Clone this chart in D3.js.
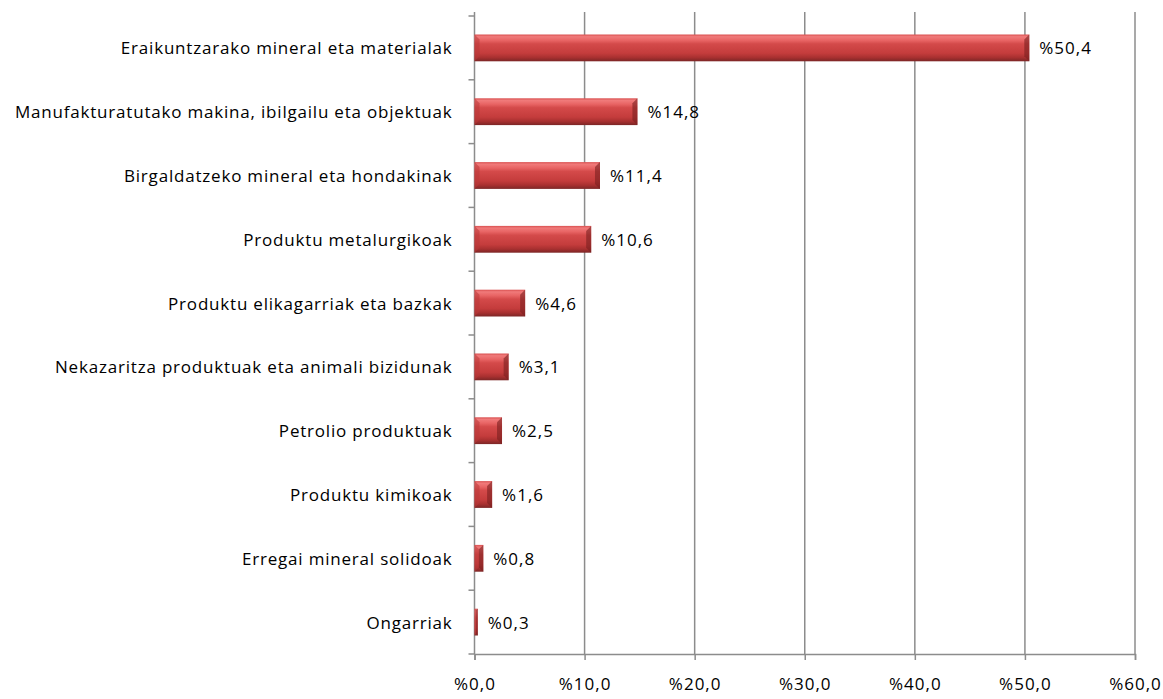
<!DOCTYPE html>
<html>
<head>
<meta charset="utf-8">
<script src="https://cdn.jsdelivr.net/npm/d3@7"></script>
<style>
  html, body { margin: 0; padding: 0; background: #fff; }
  svg { display: block; font-family: "Open Sans", sans-serif; }
</style>
</head>
<body>
<svg id="chart" width="1163" height="699"></svg>
<script>
// Categories, top to bottom
const categories = [
  "Eraikuntzarako mineral eta materialak",
  "Manufakturatutako makina, ibilgailu eta objektuak",
  "Birgaldatzeko mineral eta hondakinak",
  "Produktu metalurgikoak",
  "Produktu elikagarriak eta bazkak",
  "Nekazaritza produktuak eta animali bizidunak",
  "Petrolio produktuak",
  "Produktu kimikoak",
  "Erregai mineral solidoak",
  "Ongarriak"
];
// Share of each category (%)
const values = [50.4, 14.8, 11.4, 10.6, 4.6, 3.1, 2.5, 1.6, 0.8, 0.3];
// X axis ticks
const xTicks = [0, 10, 20, 30, 40, 50, 60];

const fmt = v => "%" + v.toFixed(1).replace(".", ",");

const svg = d3.select("#chart");
const margin = { left: 474.5, right: 28, top: 16, bottom: 45 };
const W = 1163, H = 699;

const x = d3.scaleLinear().domain([0, 60]).range([margin.left, W - margin.right]);
const y = d3.scaleBand().domain(categories).range([margin.top, H - margin.bottom]).paddingInner(0.58).paddingOuter(0.29);
const yOuter = d3.scaleBand().domain(categories).range([margin.top, H - margin.bottom]);

// Gradient for the bevelled bars
const defs = svg.append("defs");
const g = defs.append("linearGradient").attr("id", "barGrad").attr("x1", 0).attr("y1", 0).attr("x2", 0).attr("y2", 1);
[[0, "#d95050"], [0.08, "#f07a7a"], [0.22, "#e86464"], [0.35, "#d44a4a"], [0.7, "#c43c3c"], [0.86, "#a83030"], [1, "#7c2626"]]
  .forEach(([o, c]) => g.append("stop").attr("offset", o).attr("stop-color", c));

// Vertical gridlines
svg.append("g").selectAll("line").data(xTicks.filter(t => t > 0)).join("line")
  .attr("x1", d => x(d)).attr("x2", d => x(d))
  .attr("y1", margin.top - 4).attr("y2", H - margin.bottom)
  .attr("stroke", "#8c8c8c").attr("stroke-width", 1.5);

// X axis
const xAxis = svg.append("g").attr("transform", `translate(0,${H - margin.bottom})`)
  .call(d3.axisBottom(x).tickValues(xTicks).tickFormat(fmt).tickSize(6).tickPadding(18));
xAxis.select(".domain").attr("stroke", "#8c8c8c").attr("stroke-width", 1.5);
xAxis.selectAll(".tick line").attr("stroke", "#8c8c8c").attr("stroke-width", 1.5);
xAxis.selectAll("text").attr("font-size", 17).attr("letter-spacing", 1).attr("fill", "#000").attr("font-family", "'Open Sans', sans-serif");

// Y axis line with tick marks between categories
const yl = svg.append("g");
yl.append("line").attr("x1", x(0)).attr("x2", x(0)).attr("y1", margin.top - 4).attr("y2", H - margin.bottom)
  .attr("stroke", "#8c8c8c").attr("stroke-width", 1.5);
yl.selectAll("line.tk").data(d3.range(categories.length + 1)).join("line").attr("class", "tk")
  .attr("x1", x(0) - 6).attr("x2", x(0))
  .attr("y1", i => margin.top + i * yOuter.step()).attr("y2", i => margin.top + i * yOuter.step())
  .attr("stroke", "#8c8c8c").attr("stroke-width", 1.5);

// Category labels
svg.append("g").selectAll("text").data(categories).join("text")
  .attr("x", x(0) - 22).attr("y", d => yOuter(d) + yOuter.bandwidth() / 2)
  .attr("text-anchor", "end").attr("dominant-baseline", "central")
  .attr("font-size", 17).attr("letter-spacing", 0.8).attr("fill", "#000").text(d => d);

// Bars
const bars = svg.append("g").selectAll("g").data(categories).join("g");
bars.append("rect")
  .attr("x", x(0)).attr("y", d => y(d))
  .attr("width", (d, i) => x(values[i]) - x(0)).attr("height", y.bandwidth())
  .attr("fill", "url(#barGrad)");
// Bevel end caps
const bev = 5;
bars.append("path")
  .attr("d", (d, i) => {
    const x0 = x(0), x1 = x(values[i]), y0 = y(d), h = y.bandwidth();
    const b = Math.min(bev, (x1 - x0) / 2);
    return `M${x0},${y0}L${x0 + b},${y0 + b}L${x0 + b},${y0 + h - b}L${x0},${y0 + h}Z`;
  })
  .attr("fill", "#b83838").attr("opacity", 0.55);
bars.append("path")
  .attr("d", (d, i) => {
    const x0 = x(0), x1 = x(values[i]), y0 = y(d), h = y.bandwidth();
    const b = Math.min(bev, (x1 - x0) / 2);
    return `M${x1},${y0}L${x1 - b},${y0 + b}L${x1 - b},${y0 + h - b}L${x1},${y0 + h}Z`;
  })
  .attr("fill", "#7a2020").attr("opacity", 0.6);

// Value labels
svg.append("g").selectAll("text").data(categories).join("text")
  .attr("x", (d, i) => x(values[i]) + 10).attr("y", d => yOuter(d) + yOuter.bandwidth() / 2)
  .attr("dominant-baseline", "central")
  .attr("font-size", 17).attr("letter-spacing", 1).attr("fill", "#000").text((d, i) => fmt(values[i]));
</script>
</body>
</html>
